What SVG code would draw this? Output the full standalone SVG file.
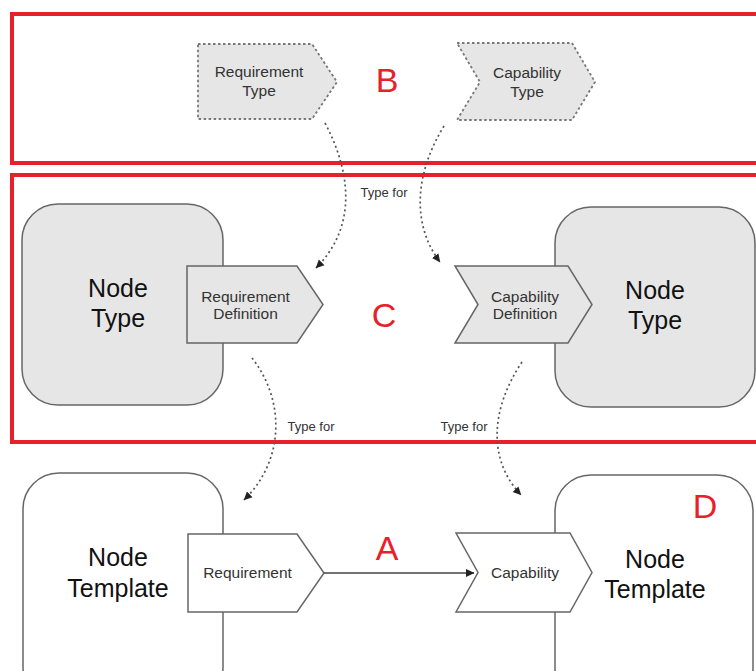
<svg xmlns="http://www.w3.org/2000/svg" width="756" height="671" viewBox="0 0 756 671">
<style>
.bg{fill:#ffffff}
.region{fill:none;stroke:#e8202a;stroke-width:4}
.node{fill:#e6e6e6;stroke:#666;stroke-width:1.5}
.tmpl{fill:#ffffff;stroke:#666;stroke-width:1.5}
.typ{fill:#e6e6e6;stroke:#777;stroke-width:1.8;stroke-dasharray:2.5 2.5}
.big{font-family:"Liberation Sans",Arial,sans-serif;font-size:25px;fill:#111;text-anchor:middle}
.small{font-family:"Liberation Sans",Arial,sans-serif;font-size:15.5px;fill:#333;text-anchor:middle}
.lbl{font-family:"Liberation Sans",Arial,sans-serif;font-size:13px;fill:#333;text-anchor:middle}
.red{font-family:"Liberation Sans",Arial,sans-serif;font-size:34px;fill:#e8202a;text-anchor:middle}
.dot{fill:none;stroke:#555;stroke-width:1.7;stroke-dasharray:2 3}
.solid{fill:none;stroke:#444;stroke-width:1.3}
</style>
<defs>
<marker id="ah" markerWidth="9" markerHeight="9" refX="8" refY="4.5" orient="auto" markerUnits="userSpaceOnUse">
<path d="M0,0.5 L8.5,4.5 L0,8.5 z" fill="#222"/>
</marker>
</defs>
<rect class="bg" x="0" y="0" width="756" height="671"/>
<g id="regionB"><rect class="region" x="12" y="14" width="760" height="149"/><text class="red" x="387" y="92">B</text></g>
<g id="regionC"><rect class="region" x="12" y="175" width="760" height="267"/><text class="red" x="384" y="327">C</text></g>
<g id="labelA"><text class="red" x="387" y="560">A</text></g>

<g id="requirementType">
<path class="typ" d="M198,44 L312,44 L337,82 L312,119 L198,119 Z"/>
<text class="small" x="259" y="77">Requirement</text>
<text class="small" x="259" y="96">Type</text>
</g>
<g id="capabilityType">
<path class="typ" d="M457,43 L572,43 L595,82 L572,120 L457,120 L480,82 Z"/>
<text class="small" x="527" y="78">Capability</text>
<text class="small" x="527" y="97">Type</text>
</g>

<g id="nodeTypeLeft">
<rect class="node" x="22" y="204" width="201" height="201" rx="36"/>
<text class="big" x="118" y="297">Node</text>
<text class="big" x="118" y="327">Type</text>
</g>
<g id="requirementDefinition">
<path class="node" d="M187,266 L297,266 L323,304.5 L297,343 L187,343 Z"/>
<text class="small" x="245.5" y="302">Requirement</text>
<text class="small" x="245.5" y="319">Definition</text>
</g>
<g id="nodeTypeRight">
<rect class="node" x="555" y="207" width="200" height="200" rx="36"/>
<text class="big" x="655" y="299">Node</text>
<text class="big" x="655" y="329">Type</text>
</g>
<g id="capabilityDefinition">
<path class="node" d="M455,266 L568,266 L592,304.5 L568,343 L455,343 L478,304.5 Z"/>
<text class="small" x="525" y="302">Capability</text>
<text class="small" x="525" y="319">Definition</text>
</g>

<g id="nodeTemplateLeft">
<rect class="tmpl" x="23" y="473" width="200" height="230" rx="36"/>
<text class="big" x="118" y="566">Node</text>
<text class="big" x="118" y="597">Template</text>
</g>
<g id="requirement">
<path class="tmpl" d="M188,534 L297,534 L324,573 L297,612 L188,612 Z"/>
<text class="small" x="247.5" y="578">Requirement</text>
</g>
<g id="nodeTemplateRight">
<rect class="tmpl" x="555" y="475" width="198" height="230" rx="36"/>
<text class="big" x="655" y="568">Node</text>
<text class="big" x="655" y="598">Template</text>
<text class="red" x="705" y="518">D</text>
</g>
<g id="capability">
<path class="tmpl" d="M456,533 L570,533 L592,572.5 L570,612 L456,612 L478,572.5 Z"/>
<text class="small" x="525" y="578">Capability</text>
</g>

<g id="connectors">
<path class="dot" d="M325,123 C354,178 354,230 316,268" marker-end="url(#ah)"/>
<path class="dot" d="M444,126 C414,175 412,225 440,262" marker-end="url(#ah)"/>
<path class="dot" d="M252,358 C285,400 285,460 244,500" marker-end="url(#ah)"/>
<path class="dot" d="M522,362 C490,410 488,460 521,495" marker-end="url(#ah)"/>
<path class="solid" d="M324,573 L474,573" marker-end="url(#ah)"/>
<text class="lbl" x="384" y="197">Type for</text>
<text class="lbl" x="311" y="431">Type for</text>
<text class="lbl" x="464" y="431">Type for</text>
</g>
</svg>
